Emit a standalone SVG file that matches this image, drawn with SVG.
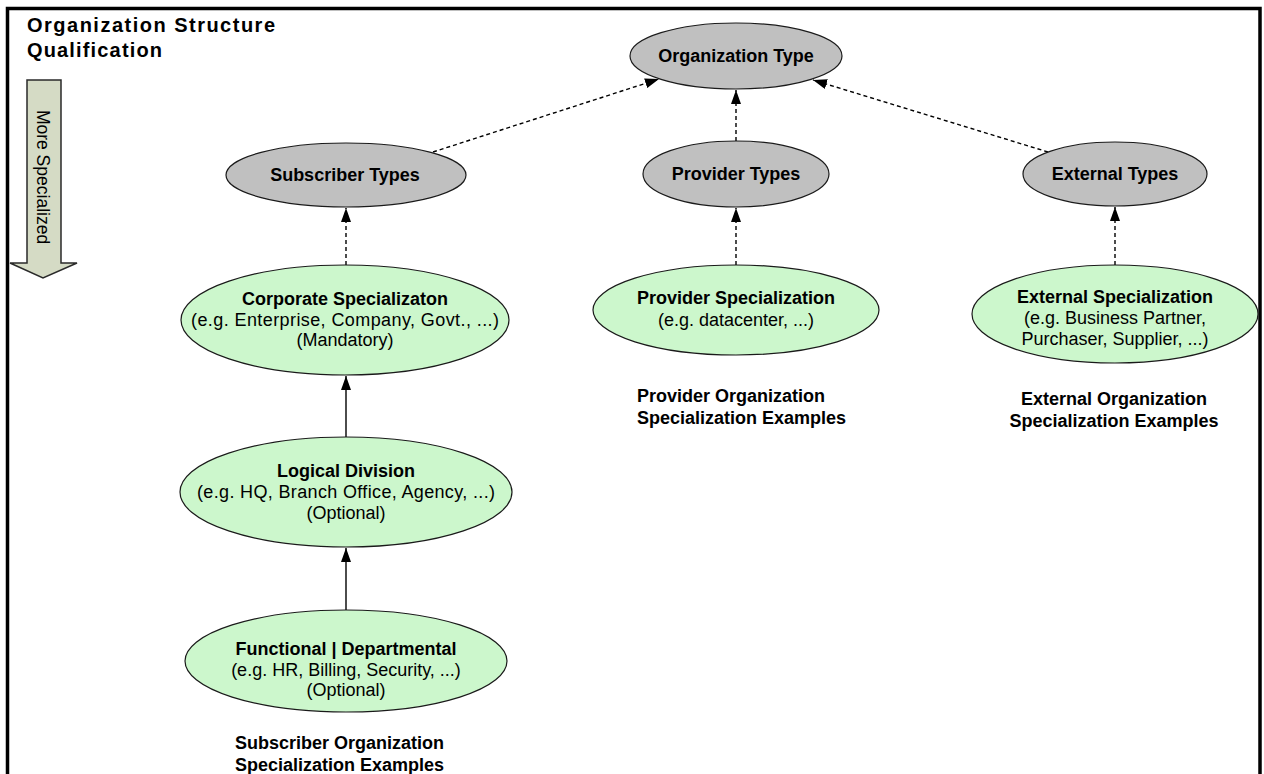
<svg xmlns="http://www.w3.org/2000/svg" width="1264" height="774" viewBox="0 0 1264 774">
  <defs>
    <style>
      .bg { fill: #ffffff; }
      .frame { fill: none; stroke: #000000; stroke-width: 3.5; }
      .type { fill: #c0c0c0; stroke: #1a1a1a; stroke-width: 1.2; }
      .spec { fill: #ccf7cc; stroke: #1a1a1a; stroke-width: 1.2; }
      .lbl { font-family: "Liberation Sans", Arial, sans-serif; font-size: 18px; fill: #000000; text-anchor: middle; }
      .b { font-weight: bold; }
      .note { font-family: "Liberation Sans", Arial, sans-serif; font-size: 18px; font-weight: bold; fill: #000000; }
      .title { font-family: "Liberation Sans", Arial, sans-serif; font-size: 20px; font-weight: bold; fill: #000000; }
      .link { fill: none; stroke: #000000; stroke-width: 1.4; marker-end: url(#head); }
      .dash { stroke-dasharray: 4 3; }
      .scale { fill: #d5dbc5; stroke: #2a2a2a; stroke-width: 1.5; stroke-linejoin: miter; }
      .scale-text { font-family: "Liberation Sans", Arial, sans-serif; font-size: 17.5px; fill: #000000; text-anchor: middle; }
    </style>
    <marker id="head" viewBox="0 0 14 10" refX="14" refY="5" markerWidth="14" markerHeight="10" markerUnits="userSpaceOnUse" orient="auto">
      <path d="M0,0 L14,5 L0,10 Z" fill="#000000"/>
    </marker>
  </defs>

  <rect class="bg" x="0" y="0" width="1264" height="774"/>
  <!-- outer frame, open at the bottom edge -->
  <path class="frame" d="M7.5,774 V8.5 H1260 V774"/>

  <!-- heading -->
  <g id="heading">
    <text class="title" x="27" y="32" textLength="248" lengthAdjust="spacing">Organization Structure</text>
    <text class="title" x="27" y="57" textLength="135" lengthAdjust="spacing">Qualification</text>
  </g>

  <!-- specialization direction arrow -->
  <g id="direction">
    <path class="scale" d="M27,80 H61 V263 H77 L43,278 L10,263 H27 Z"/>
    <text class="scale-text" transform="translate(37,177) rotate(90)">More Specialized</text>
  </g>

  <!-- connectors -->
  <g id="connectors">
    <path class="link dash" d="M433,152 L659,79"/>
    <path class="link dash" d="M736,141 L736,90"/>
    <path class="link dash" d="M1048,152 L813,80"/>
    <path class="link dash" d="M346,265 L346,208"/>
    <path class="link" d="M346,437 L346,376"/>
    <path class="link" d="M346,610 L346,548"/>
    <path class="link dash" d="M736,265 L736,208"/>
    <path class="link dash" d="M1115,265 L1115,207"/>
  </g>

  <!-- nodes -->
  <g id="organization-type">
    <ellipse class="type" cx="736" cy="56" rx="106" ry="33"/>
    <text class="lbl b" x="736" y="62">Organization Type</text>
  </g>

  <g id="subscriber-types">
    <ellipse class="type" cx="346" cy="175" rx="120" ry="32"/>
    <text class="lbl b" x="345" y="181">Subscriber Types</text>
  </g>

  <g id="provider-types">
    <ellipse class="type" cx="736" cy="174" rx="93" ry="33"/>
    <text class="lbl b" x="736" y="180">Provider Types</text>
  </g>

  <g id="external-types">
    <ellipse class="type" cx="1115" cy="174" rx="92" ry="32"/>
    <text class="lbl b" x="1115" y="180">External Types</text>
  </g>

  <g id="corporate-specialization">
    <ellipse class="spec" cx="345" cy="320" rx="164" ry="55"/>
    <text class="lbl b" x="345" y="305">Corporate Specializaton</text>
    <text class="lbl" x="345" y="326" textLength="308" lengthAdjust="spacing">(e.g. Enterprise, Company, Govt., ...)</text>
    <text class="lbl" x="345" y="346">(Mandatory)</text>
  </g>

  <g id="provider-specialization">
    <ellipse class="spec" cx="736" cy="310" rx="143" ry="45"/>
    <text class="lbl b" x="736" y="304">Provider Specialization</text>
    <text class="lbl" x="736" y="326">(e.g. datacenter,  ...)</text>
  </g>

  <g id="external-specialization">
    <ellipse class="spec" cx="1115" cy="314" rx="143" ry="49"/>
    <text class="lbl b" x="1115" y="303">External Specialization</text>
    <text class="lbl" x="1115" y="324">(e.g. Business Partner,</text>
    <text class="lbl" x="1115" y="345">Purchaser, Supplier, ...)</text>
  </g>

  <g id="logical-division">
    <ellipse class="spec" cx="346" cy="492" rx="166" ry="55"/>
    <text class="lbl b" x="346" y="477">Logical Division</text>
    <text class="lbl" x="346" y="498" textLength="298" lengthAdjust="spacing">(e.g. HQ, Branch Office, Agency, ...)</text>
    <text class="lbl" x="346" y="519">(Optional)</text>
  </g>

  <g id="functional-departmental">
    <ellipse class="spec" cx="346" cy="661" rx="161" ry="51"/>
    <text class="lbl b" x="346" y="655">Functional | Departmental</text>
    <text class="lbl" x="346" y="676">(e.g. HR, Billing, Security, ...)</text>
    <text class="lbl" x="346" y="696">(Optional)</text>
  </g>

  <!-- group captions -->
  <g id="subscriber-caption">
    <text class="note" x="235" y="749">Subscriber Organization</text>
    <text class="note" x="235" y="771">Specialization Examples</text>
  </g>

  <g id="provider-caption">
    <text class="note" x="637" y="402">Provider Organization</text>
    <text class="note" x="637" y="424">Specialization Examples</text>
  </g>

  <g id="external-caption">
    <text class="note" x="1114" y="405" text-anchor="middle">External Organization</text>
    <text class="note" x="1114" y="427" text-anchor="middle">Specialization Examples</text>
  </g>
</svg>
